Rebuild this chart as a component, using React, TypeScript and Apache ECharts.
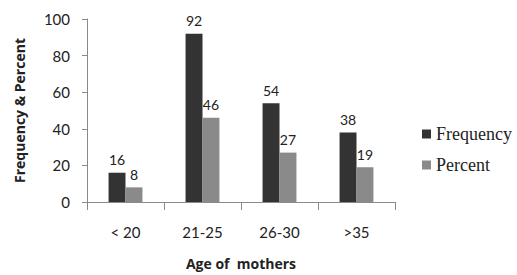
import React, { useEffect, useRef } from "react";
import * as echarts from "echarts";

const categories = ["< 20", "21-25", "26-30", ">35"];
const frequency = [16, 92, 54, 38];
const percent = [8, 46, 27, 19];
const yTicks = { min: 0, max: 100, interval: 20 };

export default function App() {
  const ref = useRef<HTMLDivElement>(null);
  useEffect(() => {
    if (!ref.current) return;
    const chart = echarts.init(ref.current, null, { renderer: "svg" });
    const font = "Lato, 'Open Sans', sans-serif";
    const boldFont = "'Open Sans', Lato, sans-serif";
    chart.setOption({
      animation: false,
      backgroundColor: "#ffffff",
      grid: { left: 87, right: 122, top: 19, bottom: 73, outerBoundsMode: "none", containLabel: false },
      legend: {
        orient: "vertical",
        left: 422,
        top: 125,
        padding: 0,
        itemWidth: 9,
        itemHeight: 9,
        itemGap: 13,
        icon: "rect",
        textStyle: { fontFamily: "'Liberation Serif', 'DejaVu Serif', serif", fontSize: 18, color: "#222" },
        data: ["Frequency", "Percent"],
      },
      xAxis: {
        type: "category",
        data: categories,
        name: "Age of  mothers",
        nameLocation: "middle",
        nameGap: 53,
        nameTextStyle: { fontFamily: boldFont, fontWeight: "bold", fontSize: 14, color: "#222", lineHeight: 17 },
        axisLine: { lineStyle: { color: "#8a8a8a", width: 1 } },
        axisTick: { show: true, length: 8, lineStyle: { color: "#8a8a8a" } },
        axisLabel: { margin: 22, fontFamily: font, fontSize: 15, color: "#222" },
      },
      yAxis: {
        type: "value",
        min: yTicks.min,
        max: yTicks.max,
        interval: yTicks.interval,
        name: "Frequency & Percent",
        nameLocation: "middle",
        nameGap: 61,
        nameTextStyle: { fontFamily: boldFont, fontWeight: "bold", fontSize: 14, color: "#222" },
        splitLine: { show: false },
        axisLine: { show: true, lineStyle: { color: "#8a8a8a", width: 1 } },
        axisTick: { show: true, length: 5, lineStyle: { color: "#8a8a8a" } },
        axisLabel: { margin: 17, fontFamily: font, fontSize: 15, color: "#222" },
      },
      series: [
        {
          name: "Frequency",
          type: "bar",
          data: frequency,
          barGap: "0%",
          barCategoryGap: "56%",
          itemStyle: { color: "#333333" },
          label: { show: true, position: "top", distance: 6, fontFamily: font, fontSize: 14, color: "#222" },
        },
        {
          name: "Percent",
          type: "bar",
          data: percent,
          itemStyle: { color: "#8a8a8a" },
          label: { show: true, position: "top", distance: 6, fontFamily: font, fontSize: 14, color: "#222" },
        },
      ],
    });
    return () => chart.dispose();
  }, []);
  return <div ref={ref} style={{ position: "absolute", left: 0, top: 0, width: 517, height: 275 }} />;
}
